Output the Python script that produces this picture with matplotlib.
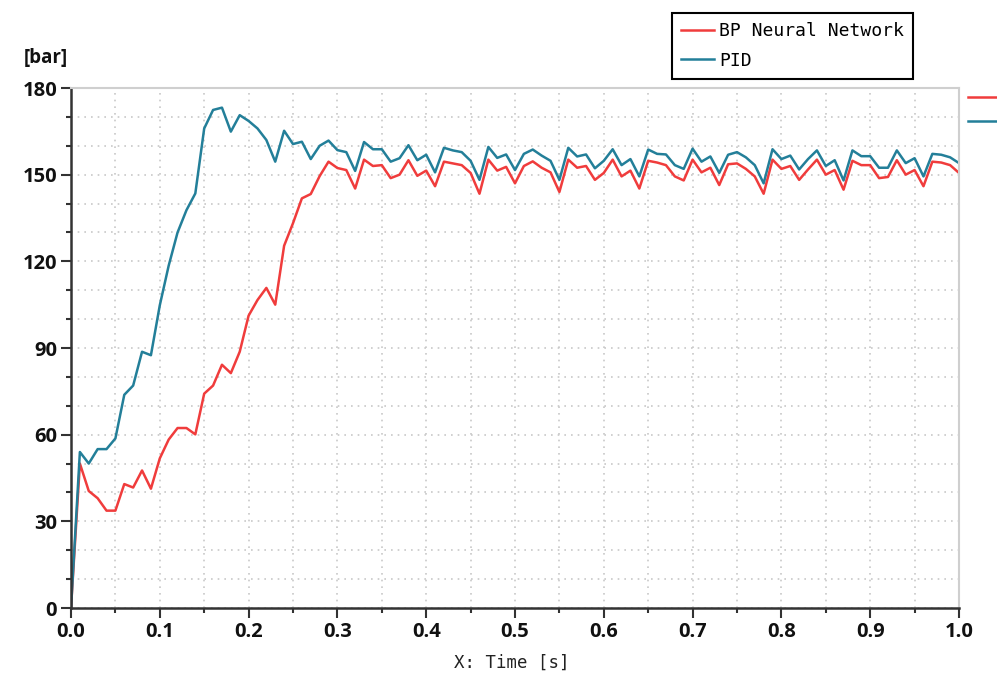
import matplotlib
matplotlib.use("Agg")
import matplotlib.pyplot as plt
import numpy as np

# time base of the simulation, 10 ms steps
t = np.linspace(0, 1, 101)

pid = [0, 54, 50, 55, 55, 58.7, 73.8, 77, 88.7, 87.5,
       104.8, 118.5, 130, 137.7, 143.5, 166, 172.4, 173.2, 164.9, 170.6,
       168.6, 166, 162, 154.5, 165.2, 160.6, 161.4, 155.4, 160, 161.8,
       158.5, 157.8, 151.3, 161.3, 158.8, 158.8, 154.5, 155.7, 160.2, 155,
       156.9, 150.8, 159.3, 158.4, 157.8, 154.8, 148.2, 159.6, 155.8, 157,
       151.6, 157.2, 158.7, 156.6, 154.8, 148.2, 159.3, 156.3, 157, 152.2,
       154.8, 158.8, 153.3, 155.4, 149.4, 158.7, 157.2, 157, 153.3, 152,
       159, 154.5, 156.3, 150.6, 156.9, 157.8, 156, 153.3, 147, 158.8,
       155.4, 156.6, 151.8, 155.4, 158.4, 153, 155, 148, 158.4, 156.4,
       156.4, 152.4, 152.4, 158.4, 154, 155.7, 149.4, 157.2, 156.9, 156,
       154]

bp = [0, 50, 40.5, 38, 33.7, 33.7, 42.9, 41.7, 47.6, 41.3,
      51.8, 58.3, 62.3, 62.3, 60.1, 74.2, 77, 84.2, 81.3, 88.7,
      101.2, 106.6, 110.8, 105, 125.4, 133.2, 141.8, 143.3, 149.5, 154.5,
      152.3, 151.6, 145.2, 155.2, 153, 153.3, 148.8, 150, 155, 149.6,
      151.4, 146, 154.5, 153.9, 153.3, 150.6, 143.4, 155.2, 151.4, 152.7,
      147, 153, 154.6, 152.4, 150.8, 144, 155.2, 152.4, 153, 148.2,
      150.6, 155.2, 149.4, 151.4, 145.2, 154.8, 154.2, 153.3, 149.4, 148,
      155.2, 150.8, 152.4, 146.4, 153.6, 153.9, 152, 149.4, 143.4, 155.2,
      152, 153, 148.2, 151.8, 155.2, 150, 151.6, 144.8, 154.8, 153.3,
      153.3, 148.8, 149.2, 155, 150, 151.6, 146, 154.5, 154.2, 153.3,
      150.6]

labels = ["BP Neural Network", "PID"]
xticks = [0.0, 0.1, 0.2, 0.3, 0.4, 0.5, 0.6, 0.7, 0.8, 0.9, 1.0]
yticks = [0, 30, 60, 90, 120, 150, 180]

red = "#f03c3c"
blue = "#237f99"

fig = plt.figure(figsize=(9.97, 6.75), dpi=100)
ax = fig.add_axes([71 / 997, 1 - 608 / 675, 888 / 997, 520 / 675])

l1, = ax.plot(t, bp, color=red, lw=1.8)
l2, = ax.plot(t, pid, color=blue, lw=1.8)

ax.set_xlim(0, 1)
ax.set_ylim(0, 180)
ax.set_xticks(xticks)
ax.set_xticks(np.arange(0.05, 1.0, 0.1), minor=True)
ax.set_yticks(yticks)
ax.set_yticks([v for v in range(0, 181, 10) if v % 30], minor=True)
ax.set_xticklabels(["%.1f" % v for v in xticks])
ax.set_yticklabels([str(v) for v in yticks])

for lab in ax.get_xticklabels() + ax.get_yticklabels():
    lab.set_fontfamily("Open Sans")
    lab.set_fontweight("bold")
    lab.set_fontsize(14.5)
    lab.set_color("#111111")

ax.tick_params(which="major", length=7, width=1.5, color="#333333", pad=3)
ax.tick_params(which="minor", length=3.5, width=1.5, color="#333333")
ax.tick_params(top=False, right=False)

ax.grid(True, which="both", color="#c8c8c8", linestyle=(0, (1, 3)), lw=1.2)
ax.set_axisbelow(True)

for s in ["left", "bottom"]:
    ax.spines[s].set_color("#333333")
    ax.spines[s].set_linewidth(1.8)
for s in ["top", "right"]:
    ax.spines[s].set_color("#cfcfcf")
    ax.spines[s].set_linewidth(1.5)

fig.text(24 / 997, 1 - 58 / 675, "[bar]", fontfamily="Open Sans",
         fontweight="bold", fontsize=13.5, va="center", ha="left", color="#111111")
fig.text(512 / 997, 1 - 663 / 675, "X: Time [s]", fontfamily="DejaVu Sans Mono",
         fontsize=12.5, va="center", ha="center", color="#222222")

leg = fig.legend([l1, l2], labels, loc="upper left",
                 bbox_to_anchor=(672 / 997, 1 - 13 / 675),
                 prop={"family": "DejaVu Sans Mono", "size": 13},
                 frameon=True, fancybox=False, framealpha=1,
                 edgecolor="black", handlelength=1.8, handletextpad=0.3,
                 borderpad=0.5, labelspacing=0.65, borderaxespad=0)
leg.get_frame().set_linewidth(1.5)

# second legend, only its line handles show inside the figure
leg2 = fig.legend([l1, l2], ["", ""], loc="upper left",
                  bbox_to_anchor=(968 / 997, 1 - 90 / 675),
                  prop={"family": "DejaVu Sans Mono", "size": 11},
                  frameon=False, handlelength=3, labelspacing=0.6,
                  borderaxespad=0, borderpad=0)

fig.savefig("out.png", dpi=100)
